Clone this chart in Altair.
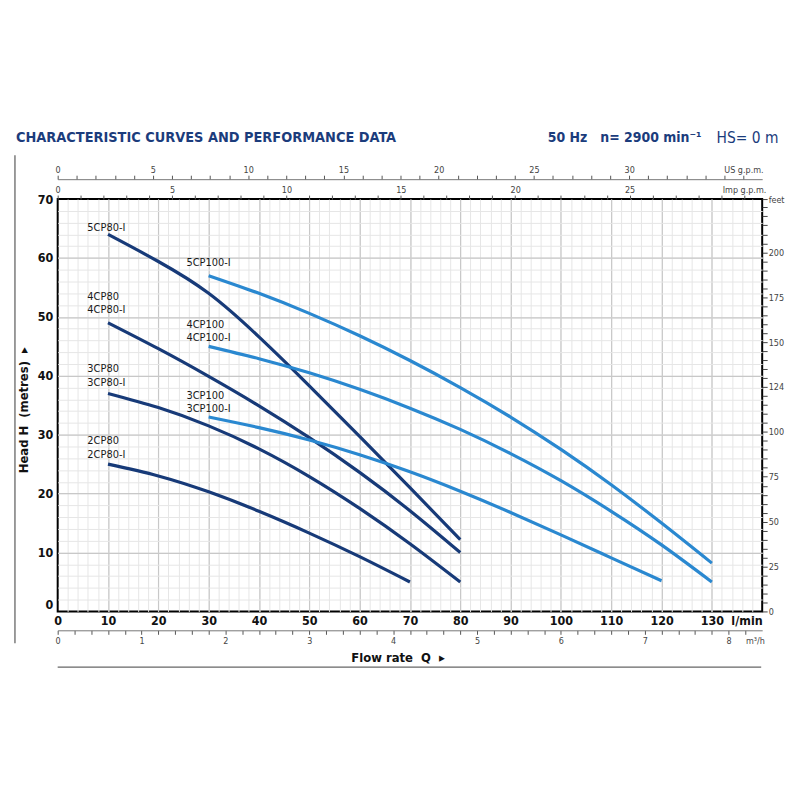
import altair as alt
import pandas as pd

# ---------------- data ----------------
q_80 = [10, 20, 30, 40, 50, 60, 70, 80]
h_5cp80 = [64, 59.4, 54, 46.6, 38.3, 29.7, 21, 12.2]
h_4cp80 = [49, 44.6, 39.9, 34.9, 29.5, 23.6, 17.1, 10]
h_3cp80 = [37, 34.6, 31.5, 27.6, 22.9, 17.5, 11.5, 5]
q_2cp80 = [10, 20, 30, 40, 50, 60, 70]
h_2cp80 = [25, 23, 20.3, 17, 13.3, 9.3, 5]

q_100 = [30, 40, 50, 60, 70, 80, 90, 100, 110, 120, 130]
h_5cp100 = [57, 54.0, 50.6, 46.8, 42.6, 38.0, 33.0, 27.5, 21.5, 15.0, 8.2]
h_4cp100 = [45, 42.9, 40.5, 37.7, 34.5, 30.9, 26.8, 22.2, 17.0, 11.3, 5.0]
q_3cp100 = [30, 40, 50, 60, 70, 80, 90, 100, 110, 120]
h_3cp100 = [33, 31.2, 29.1, 26.6, 23.7, 20.4, 16.8, 13.0, 9.1, 5.2]

label_text = ["5CP80-I", "4CP80", "4CP80-I", "3CP80", "3CP80-I", "2CP80", "2CP80-I",
              "5CP100-I", "4CP100", "4CP100-I", "3CP100", "3CP100-I"]
label_q = [5.9, 5.9, 5.9, 5.9, 5.9, 5.9, 5.9, 25.6, 25.6, 25.6, 25.6, 25.6]
label_h = [65.1, 53.3, 51.1, 41.1, 38.8, 29.0, 26.6, 59.2, 48.7, 46.4, 36.6, 34.4]

lmin_ticks = list(range(0, 150, 10))
head_ticks = list(range(0, 80, 10))

NAVY = "#173a78"
BLUE = "#2a88d0"
NARROW = "Liberation Sans Narrow, DejaVu Sans Condensed, Arial Narrow, sans-serif"
SMALL = "Liberation Sans Narrow, DejaVu Sans Condensed, sans-serif"

# ---------------- tables built from the arrays ----------------
rows = []
for name, qs, hs, fam in [
    ("5CP80-I", q_80, h_5cp80, "80"), ("4CP80", q_80, h_4cp80, "80"),
    ("3CP80", q_80, h_3cp80, "80"), ("2CP80", q_2cp80, h_2cp80, "80"),
    ("5CP100-I", q_100, h_5cp100, "100"), ("4CP100", q_100, h_4cp100, "100"),
    ("3CP100", q_3cp100, h_3cp100, "100")]:
    for q, h in zip(qs, hs):
        rows.append({"model": name, "q": q, "h": h, "fam": fam})
curves = pd.DataFrame(rows)
labels = pd.DataFrame({"label": label_text, "q": label_q, "h": label_h})
one = pd.DataFrame({"a": [0]})

XS = alt.Scale(domain=[0, 140], nice=False, zero=False)
YS = alt.Scale(domain=[0, 70], nice=False, zero=False)

def x_enc(axis):
    return alt.X("q:Q", scale=XS, axis=axis, title=None)

def y_enc(axis):
    return alt.Y("h:Q", scale=YS, axis=axis, title=None)

def ghost(xaxis, yaxis):
    return alt.Chart(curves).mark_point(opacity=0, size=1).encode(
        x=x_enc(xaxis), y=y_enc(yaxis))

# minor grid
minor = ghost(
    alt.Axis(values=list(range(2, 140, 2)), grid=True, gridColor="#e6e6e6", gridWidth=1,
             labels=False, ticks=False, domain=False, title=None),
    alt.Axis(values=list(range(2, 70, 2)), grid=True, gridColor="#e6e6e6", gridWidth=1,
             labels=False, ticks=False, domain=False, title=None))

# major grid
major = ghost(
    alt.Axis(values=list(range(10, 140, 10)), grid=True, gridColor="#c8c8c8", gridWidth=1.2,
             labels=False, ticks=False, domain=False, title=None),
    alt.Axis(values=list(range(10, 70, 10)), grid=True, gridColor="#c8c8c8", gridWidth=1.2,
             labels=False, ticks=False, domain=False, title=None))

# curves with the main axes
lines = alt.Chart(curves).mark_line(strokeWidth=3.2, interpolate="natural", strokeCap="butt").encode(
    x=x_enc(alt.Axis(values=lmin_ticks, orient="bottom", grid=False, ticks=False, domain=False,
                     labelFont=NARROW, labelFontSize=12.5, labelFontWeight="bold", labelColor="#111",
                     labelPadding=3, labelFlush=False, labelOverlap=False,
                     labelExpr="datum.value == 140 ? 'l/min' : datum.label",
                     labelAlign=alt.condition("datum.value == 140", alt.value("right"), alt.value("center")),
                     title="Flow rate\u00a0\u00a0Q\u00a0\u00a0\u25b8", titleFont=NARROW, titleFontSize=13,
                     titleFontWeight="bold", titleColor="#111", titleX=342, titleY=46,
                     titleAlign="center", titleBaseline="middle")),
    y=y_enc(alt.Axis(values=head_ticks, orient="left", grid=False, ticks=False, domain=False,
                     labelFont=NARROW, labelFontSize=12.5, labelFontWeight="bold", labelColor="#111",
                     labelPadding=5, labelFlush=False, labelOverlap=False,
                     labelBaseline=alt.condition("datum.value == 0", alt.value("bottom"), alt.value("middle")),
                     title="Head H\u00a0\u00a0(metres)\u00a0\u00a0\u25b8", titleFont=NARROW, titleFontSize=13,
                     titleFontWeight="bold", titleColor="#111", titleX=-34, titleY=212,
                     titleAngle=270, titleAlign="center", titleBaseline="middle")),
    color=alt.Color("fam:N", scale=alt.Scale(domain=["80", "100"], range=[NAVY, BLUE]), legend=None),
    detail="model:N")

# curve labels
texts = alt.Chart(labels).mark_text(align="left", baseline="middle", font=NARROW,
                                    fontSize=11, color="#1a1a1a").encode(
    x=x_enc(None), y=y_enc(None), text="label:N")

# top Imp g.p.m. axis + right feet axis
imp_vals = [round(k * 4.54609, 4) for k in range(0, 31)]
ft_vals = [round(ft / 3.28084, 4) for ft in range(0, 230, 5)] + [70]
imp_feet = ghost(
    alt.Axis(values=imp_vals, orient="top", offset=0, grid=False, domain=False, tickSize=4,
             tickColor="#555", tickWidth=1, labelFontSize=9, labelColor="#444", labelPadding=1,
             labelFont=SMALL, labelFlush=False, labelOverlap=False, title=None,
             labelExpr="round(datum.value/4.54609) == 30 ? 'Imp g.p.m.' : (round(datum.value/4.54609) % 5 == 0 ? '' + round(datum.value/4.54609) : '')"),
    alt.Axis(values=ft_vals, orient="right", grid=False, domain=False, tickSize=5,
             tickColor="#444", tickWidth=1, labelFontSize=9, labelColor="#444", labelPadding=1,
             labelFont=SMALL, labelFlush=False, labelOverlap=False, title=None,
             labelExpr="datum.value >= 69.9 ? 'feet' : ((round(datum.value*3.28084) % 25 == 0 && round(datum.value*3.28084) <= 200) ? (round(datum.value*3.28084) == 125 ? '124' : '' + round(datum.value*3.28084)) : '')"))

# top US g.p.m. axis
us_vals = [round(k * 3.78541, 4) for k in range(0, 37)]
us = ghost(
    alt.Axis(values=us_vals, orient="top", offset=20, grid=False, domain=True, domainColor="#777",
             domainWidth=1, tickSize=4, tickColor="#555", tickWidth=1, labelFontSize=9,
             labelColor="#444", labelPadding=1, labelFont=SMALL,
             labelFlush=False, labelOverlap=False, title=None,
             labelExpr="round(datum.value/3.78541) == 36 ? 'US g.p.m.' : (round(datum.value/3.78541) % 5 == 0 && round(datum.value/3.78541) <= 30 ? '' + round(datum.value/3.78541) : '')"),
    None)

# bottom m3/h axis
m3_vals = [round(k * 0.2 * 1000 / 60, 4) for k in range(0, 42)]
m3 = ghost(
    alt.Axis(values=m3_vals, orient="bottom", offset=19, grid=False, domain=True, domainColor="#777",
             domainWidth=1, tickSize=4, tickColor="#555", tickWidth=1, labelFontSize=9,
             labelColor="#444", labelPadding=2, labelFont=SMALL,
             labelFlush=False, labelOverlap=False, title=None,
             labelExpr="round(datum.value*0.3) == 41 ? 'm\u00b3/h' : (round(datum.value*0.3) % 5 == 0 ? '' + round(datum.value*0.3)/5 : '')",
             labelAlign=alt.condition("datum.value > 135", alt.value("left"), alt.value("center"))),
    None)

# decorations and headings
vline = alt.Chart(one).mark_rule(color="#666", strokeWidth=1.3).encode(
    x=alt.value(-43), y=alt.value(-44), y2=alt.value(447))
hline = alt.Chart(one).mark_rule(color="#666", strokeWidth=1.3).encode(
    x=alt.value(0), x2=alt.value(708), y=alt.value(471))
title = alt.Chart(one).mark_text(
    text="CHARACTERISTIC CURVES AND PERFORMANCE DATA", align="left", baseline="middle",
    font=NARROW, fontSize=14.5, fontWeight="bold", color="#1b3c7c").encode(
    x=alt.value(-42), y=alt.value(-61))
spec1 = alt.Chart(one).mark_text(
    text="50 Hz\u00a0\u00a0\u00a0n= 2900 min\u207b\u00b9", align="right", baseline="middle",
    font=NARROW, fontSize=14, fontWeight="bold", color="#1b3c7c").encode(
    x=alt.value(648), y=alt.value(-61))
spec2 = alt.Chart(one).mark_text(
    text="HS= 0 m", align="left", baseline="middle",
    font=NARROW, fontSize=15.5, fontWeight="normal", color="#1b3c7c").encode(
    x=alt.value(663), y=alt.value(-61))

chart = alt.layer(minor, major, lines, texts, imp_feet, us, m3, vline, hline, title, spec1, spec2).resolve_axis(
    x="independent", y="independent"
).properties(
    width=709, height=415,
    padding={"left": 50, "top": 190, "right": 30, "bottom": 110},
    autosize=alt.AutoSizeParams(type="none"),
    background="white",
).configure_view(stroke="#000", strokeWidth=2)

chart.save("out.html", embed_options={"renderer": "svg", "actions": False})
